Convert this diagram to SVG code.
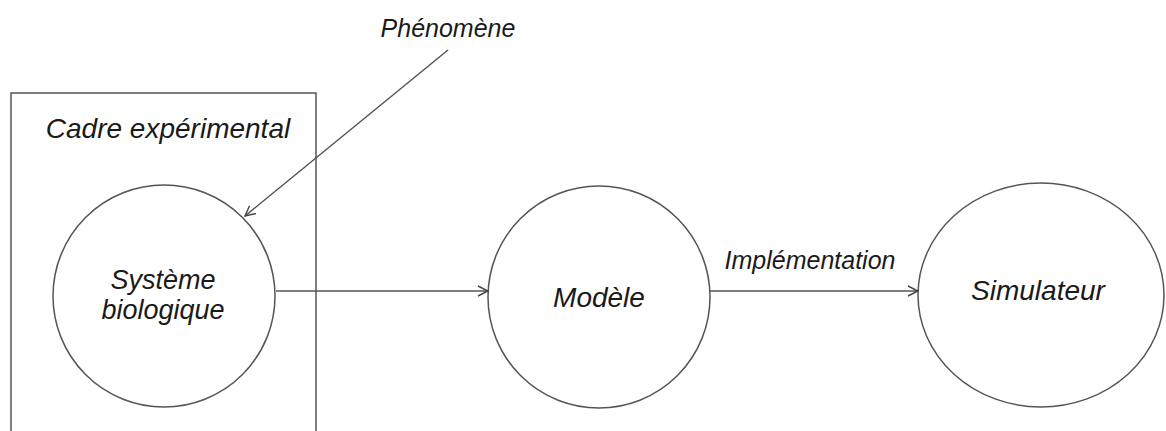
<svg xmlns="http://www.w3.org/2000/svg" width="1166" height="431" viewBox="0 0 1166 431">
<style>
.t{font-family:"Liberation Sans",Arial,sans-serif;font-style:italic;fill:#1a1a1a;text-anchor:middle}
.s{fill:none;stroke:#555;stroke-width:1.5}
.n{fill:#fff;stroke:#555;stroke-width:1.5}
</style>
<defs>
<marker id="a" viewBox="0 0 12 12" refX="11" refY="6" markerWidth="12" markerHeight="12" markerUnits="userSpaceOnUse" orient="auto">
<path d="M1,1 L11,6 L1,11" fill="none" stroke="#444" stroke-width="1.4"/>
</marker>
</defs>
<g id="cadre">
<rect x="11" y="93" width="305" height="400" class="s"/>
<text class="t" x="168" y="138" font-size="28">Cadre expérimental</text>
</g>
<g id="phenomene">
<text class="t" x="448" y="37" font-size="25">Phénomène</text>
</g>
<g id="systeme">
<circle cx="164" cy="296" r="111" class="n"/>
<text class="t" x="163" y="289" font-size="27">Système</text>
<text class="t" x="163" y="319" font-size="27">biologique</text>
</g>
<g id="modele">
<circle cx="599" cy="297" r="111" class="n"/>
<text class="t" x="599" y="307" font-size="28">Modèle</text>
</g>
<g id="simulateur">
<ellipse cx="1041" cy="295" rx="123" ry="112" class="n"/>
<text class="t" x="1038" y="300" font-size="28">Simulateur</text>
</g>
<g id="connectors">
<line x1="448" y1="50" x2="245" y2="216" class="s" marker-end="url(#a)"/>
<line x1="276" y1="291" x2="488" y2="291" class="s" marker-end="url(#a)"/>
<line x1="710" y1="291" x2="918" y2="291" class="s" marker-end="url(#a)"/>
<text class="t" x="810" y="269" font-size="25">Implémentation</text>
</g>
</svg>
